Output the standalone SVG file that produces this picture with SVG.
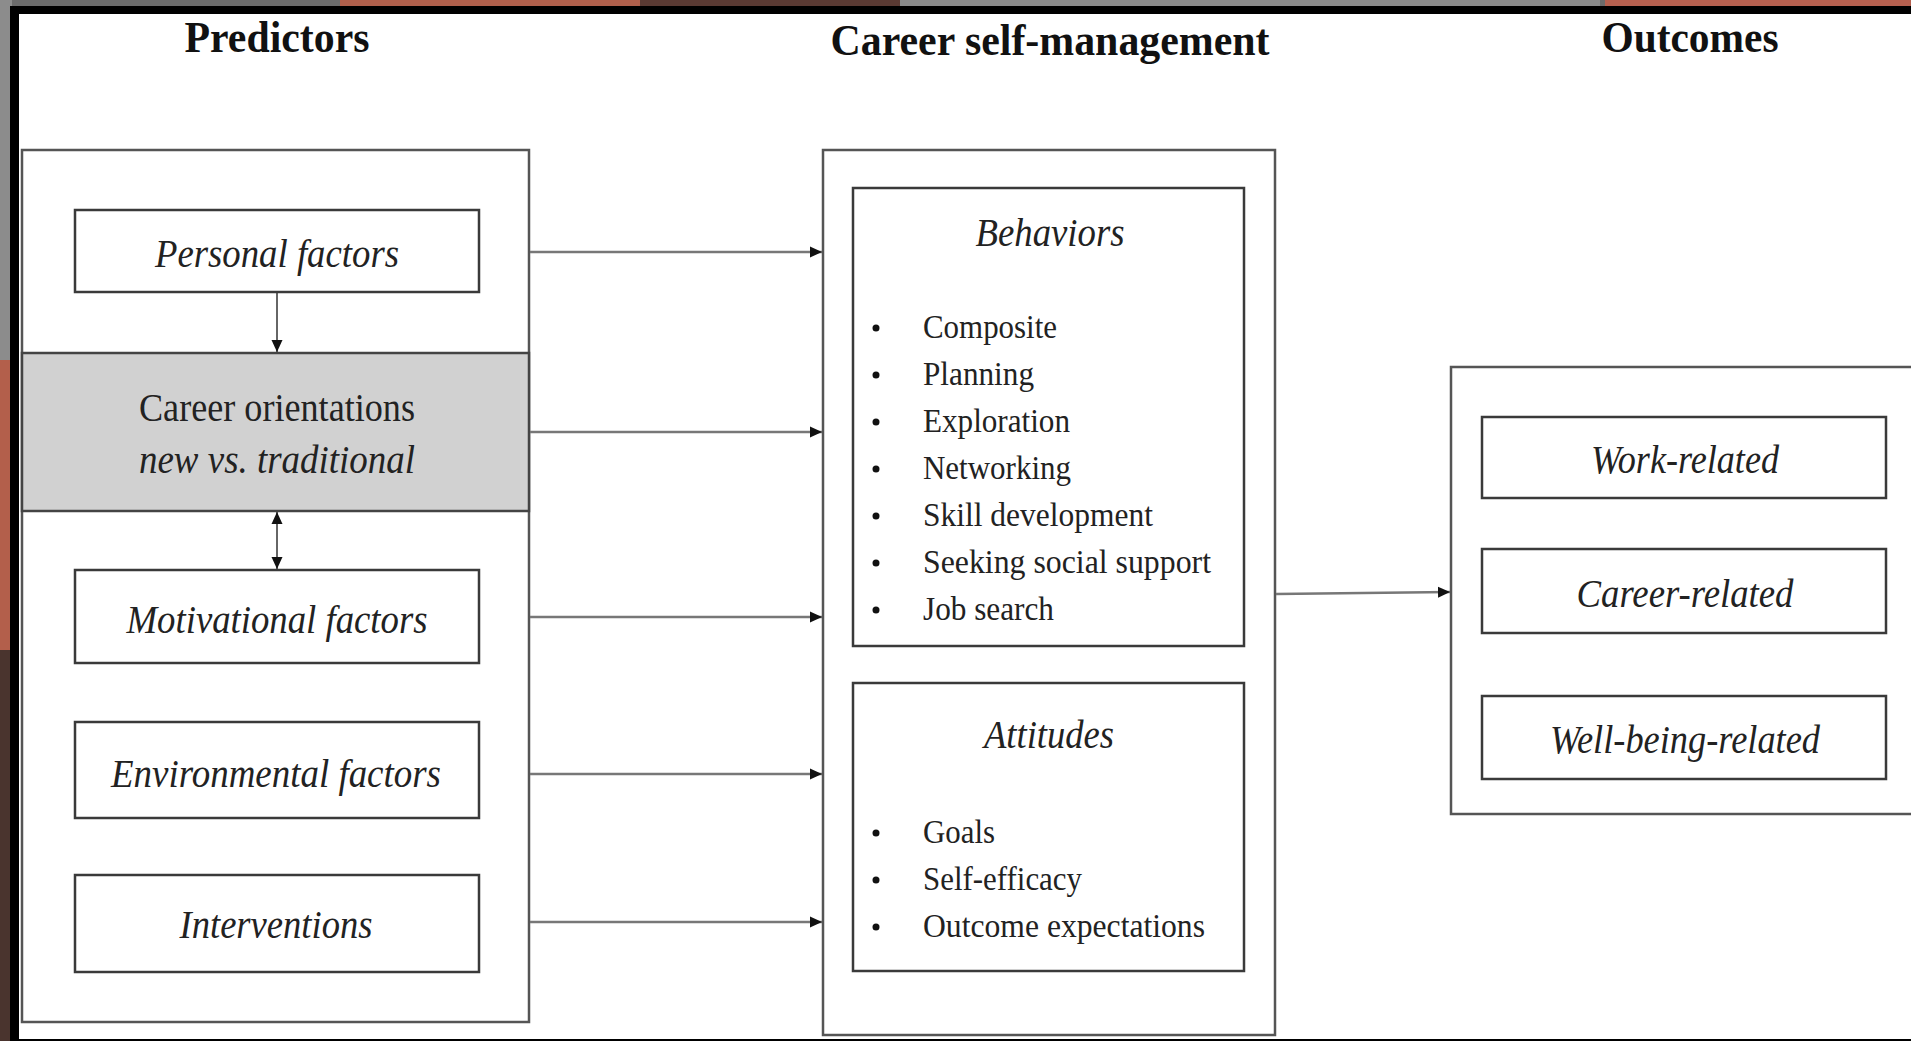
<svg xmlns="http://www.w3.org/2000/svg" width="1911" height="1041" viewBox="0 0 1911 1041">
<style>
.t{font-family:"Liberation Serif","Times New Roman",serif;fill:#111}
.title{font-weight:bold;font-size:45px}
.lab{font-style:italic;font-size:39px;fill:#222}
.reg{font-size:39px;fill:#222}
.li{font-size:34px;fill:#222}
.box{fill:#fff;stroke:#3a3a3a;stroke-width:2.5}
.outer{fill:#fff;stroke:#555;stroke-width:2.5}
.con{stroke:#777;stroke-width:2.5;fill:none}
.dark{stroke:#333;stroke-width:1.5;fill:none}
</style>
<defs>
<marker id="ah" viewBox="0 0 12 12" refX="12" refY="6" markerWidth="12" markerHeight="12" markerUnits="userSpaceOnUse" orient="auto-start-reverse">
<path d="M0,0.5 L12,6 L0,11.5 z" fill="#111"/>
</marker>
</defs>
<!-- background photo strips -->
<rect x="0" y="0" width="1911" height="1041" fill="#6b6b6b"/>
<rect x="340" y="0" width="300" height="8" fill="#b0604c"/>
<rect x="640" y="0" width="260" height="8" fill="#5a3a33"/>
<rect x="900" y="0" width="700" height="8" fill="#8a8a8a"/>
<rect x="1605" y="0" width="306" height="8" fill="#b5604f"/>
<rect x="0" y="0" width="12" height="360" fill="#8c8c8c"/>
<rect x="0" y="360" width="12" height="290" fill="#b35f4b"/>
<rect x="0" y="650" width="12" height="391" fill="#4a342e"/>
<!-- black frame -->
<rect x="10" y="6" width="1901" height="1035" fill="#000"/>
<rect x="19" y="14" width="1892" height="1025" fill="#fff"/>
<!-- titles -->
<text class="t title" x="277" y="52" text-anchor="middle" textLength="185" lengthAdjust="spacingAndGlyphs">Predictors</text>
<text class="t title" x="1050" y="55" text-anchor="middle" textLength="439" lengthAdjust="spacingAndGlyphs">Career self-management</text>
<text class="t title" x="1690" y="52" text-anchor="middle" textLength="177" lengthAdjust="spacingAndGlyphs">Outcomes</text>
<!-- predictors -->
<g id="predictors">
<rect class="outer" x="22" y="150" width="507" height="872"/>
</g>
<g id="career-orientations">
<rect x="22" y="353" width="507" height="158" fill="#d1d1d1" stroke="#444" stroke-width="2.5"/>
<text class="t reg" x="277" y="421" text-anchor="middle" textLength="276" lengthAdjust="spacingAndGlyphs">Career orientations</text>
<text class="t lab" x="277" y="473" text-anchor="middle" textLength="276" lengthAdjust="spacingAndGlyphs">new vs. traditional</text>
</g>
<g id="personal-factors">
<rect class="box" x="75" y="210" width="404" height="82"/>
<text class="t lab" x="277" y="267" text-anchor="middle" textLength="244" lengthAdjust="spacingAndGlyphs">Personal factors</text>
</g>
<g id="motivational-factors">
<rect class="box" x="75" y="570" width="404" height="93"/>
<text class="t lab" x="277" y="633" text-anchor="middle" textLength="301" lengthAdjust="spacingAndGlyphs">Motivational factors</text>
</g>
<g id="environmental-factors">
<rect class="box" x="75" y="722" width="404" height="96"/>
<text class="t lab" x="276" y="787" text-anchor="middle" textLength="330" lengthAdjust="spacingAndGlyphs">Environmental factors</text>
</g>
<g id="interventions">
<rect class="box" x="75" y="875" width="404" height="97"/>
<text class="t lab" x="276" y="938" text-anchor="middle" textLength="193" lengthAdjust="spacingAndGlyphs">Interventions</text>
</g>
<!-- career self-management -->
<g id="career-self-management">
<rect class="outer" x="823" y="150" width="452" height="885"/>
</g>
<g id="behaviors">
<rect class="box" x="853" y="188" width="391" height="458"/>
<text class="t lab" x="1050" y="246" text-anchor="middle" textLength="149" lengthAdjust="spacingAndGlyphs">Behaviors</text>
<g fill="#111">
<circle cx="876" cy="328" r="3.5"/><circle cx="876" cy="375" r="3.5"/><circle cx="876" cy="422" r="3.5"/><circle cx="876" cy="469" r="3.5"/><circle cx="876" cy="516" r="3.5"/><circle cx="876" cy="563" r="3.5"/><circle cx="876" cy="610" r="3.5"/>
</g>
<text class="t li" x="923" y="338" textLength="134" lengthAdjust="spacingAndGlyphs">Composite</text>
<text class="t li" x="923" y="385" textLength="111" lengthAdjust="spacingAndGlyphs">Planning</text>
<text class="t li" x="923" y="432" textLength="147" lengthAdjust="spacingAndGlyphs">Exploration</text>
<text class="t li" x="923" y="479" textLength="148" lengthAdjust="spacingAndGlyphs">Networking</text>
<text class="t li" x="923" y="526" textLength="230" lengthAdjust="spacingAndGlyphs">Skill development</text>
<text class="t li" x="923" y="573" textLength="288" lengthAdjust="spacingAndGlyphs">Seeking social support</text>
<text class="t li" x="923" y="620" textLength="131" lengthAdjust="spacingAndGlyphs">Job search</text>
</g>
<g id="attitudes">
<rect class="box" x="853" y="683" width="391" height="288"/>
<text class="t lab" x="1049" y="748" text-anchor="middle" textLength="130" lengthAdjust="spacingAndGlyphs">Attitudes</text>
<g fill="#111">
<circle cx="876" cy="833" r="3.5"/><circle cx="876" cy="880" r="3.5"/><circle cx="876" cy="927" r="3.5"/>
</g>
<text class="t li" x="923" y="843" textLength="72" lengthAdjust="spacingAndGlyphs">Goals</text>
<text class="t li" x="923" y="890" textLength="159" lengthAdjust="spacingAndGlyphs">Self-efficacy</text>
<text class="t li" x="923" y="937" textLength="282" lengthAdjust="spacingAndGlyphs">Outcome expectations</text>
</g>
<!-- outcomes -->
<g id="outcomes">
<rect class="outer" x="1451" y="367" width="470" height="447"/>
</g>
<g id="work-related">
<rect class="box" x="1482" y="417" width="404" height="81"/>
<text class="t lab" x="1685" y="473" text-anchor="middle" textLength="188" lengthAdjust="spacingAndGlyphs">Work-related</text>
</g>
<g id="career-related">
<rect class="box" x="1482" y="549" width="404" height="84"/>
<text class="t lab" x="1685" y="607" text-anchor="middle" textLength="217" lengthAdjust="spacingAndGlyphs">Career-related</text>
</g>
<g id="well-being-related">
<rect class="box" x="1482" y="696" width="404" height="83"/>
<text class="t lab" x="1685" y="753" text-anchor="middle" textLength="270" lengthAdjust="spacingAndGlyphs">Well-being-related</text>
</g>
<!-- connectors -->
<g id="connectors">
<line class="con" x1="530" y1="252" x2="822" y2="252" marker-end="url(#ah)"/>
<line class="con" x1="530" y1="432" x2="822" y2="432" marker-end="url(#ah)"/>
<line class="con" x1="530" y1="617" x2="822" y2="617" marker-end="url(#ah)"/>
<line class="con" x1="530" y1="774" x2="822" y2="774" marker-end="url(#ah)"/>
<line class="con" x1="530" y1="922" x2="822" y2="922" marker-end="url(#ah)"/>
<line class="con" x1="1276" y1="594" x2="1450" y2="592" marker-end="url(#ah)"/>
<line class="dark" x1="277" y1="293" x2="277" y2="352" marker-end="url(#ah)"/>
<line class="dark" x1="277" y1="512" x2="277" y2="569" marker-start="url(#ah)" marker-end="url(#ah)"/>
</g>
</svg>
